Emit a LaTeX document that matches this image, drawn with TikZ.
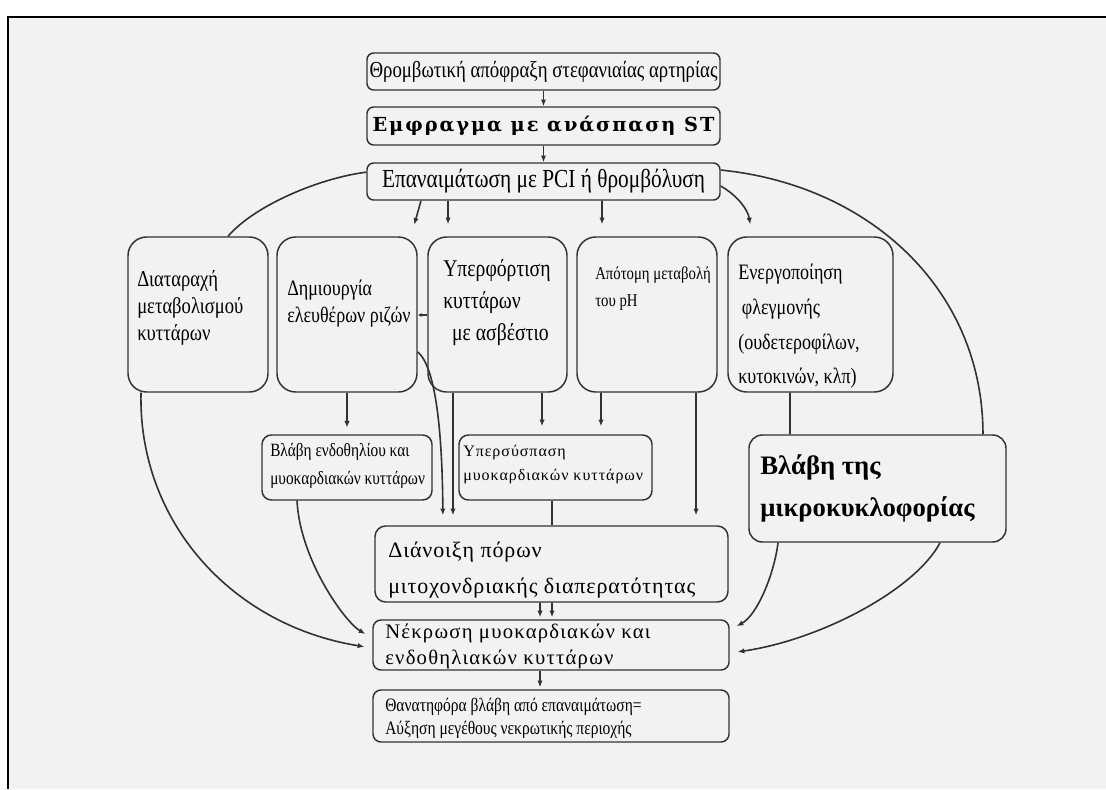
\documentclass[tikz,border=0pt]{standalone}
\usepackage{fontspec}
\setmainfont{Liberation Serif}
\newfontfamily\cond[FakeStretch=0.82]{Liberation Serif}
\newfontfamily\dvsb[LetterSpace=10]{DejaVu Serif}
\newfontfamily\spaced[LetterSpace=6]{Liberation Serif}
\newfontfamily\spacedb[LetterSpace=4]{Liberation Serif}
\usetikzlibrary{arrows.meta,calc}
\definecolor{bg}{RGB}{242,242,242}
\definecolor{ln}{RGB}{50,50,50}
\begin{document}
\begin{tikzpicture}[x=0.75pt,y=-0.75pt,
  box/.style={draw=ln, line width=1.1pt, fill=bg, inner sep=0pt},
  conn/.style={draw=ln, line width=1.2pt},
  arr/.style={conn, -{Latex[length=5pt,width=4pt]}},
  txt/.style={inner sep=0pt, anchor=west, align=left, text=black}]
\useasboundingbox (0,0) rectangle (1106,789);
\fill[white] (0,0) rectangle (1106,789);
\fill[bg] (8,17) rectangle (1106,789);
\draw[black, line width=1.5pt] (8,789) -- (8,17) -- (1106,17);

% boxes
\node[box, rounded corners=5pt, minimum width=264.75pt, minimum height=27.75pt] (b1) at (543.5,71.5) {};
\node[box, rounded corners=5pt, minimum width=264.75pt, minimum height=28.5pt] (b2) at (543.5,126) {};
\node[box, rounded corners=5pt, minimum width=264.75pt, minimum height=27.75pt] (b3) at (543.5,181.5) {};
\node[box, rounded corners=14pt, minimum width=105pt, minimum height=116.25pt] (r1) at (198,314.5) {};
\node[box, rounded corners=14pt, minimum width=105pt, minimum height=116.25pt] (r2) at (347,314.5) {};
\node[box, rounded corners=14pt, minimum width=104.25pt, minimum height=116.25pt] (r3) at (497.5,314.5) {};
\node[box, rounded corners=14pt, minimum width=105pt, minimum height=116.25pt] (r4) at (647,314.5) {};
\node[box, rounded corners=14pt, minimum width=123.75pt, minimum height=116.25pt] (r5) at (810.5,314.5) {};
\node[box, rounded corners=7pt, minimum width=127.5pt, minimum height=48.75pt] (s1) at (347,467.5) {};
\node[box, rounded corners=7pt, minimum width=144.75pt, minimum height=48.75pt] (s2) at (555.5,467.5) {};
\node[box, rounded corners=10pt, minimum width=192.75pt, minimum height=80.25pt] (s3) at (877.5,488.5) {};
\node[box, rounded corners=8pt, minimum width=264.75pt, minimum height=57pt] (d) at (551.5,564) {};
\node[box, rounded corners=6pt, minimum width=267pt, minimum height=37.5pt] (n) at (551,645) {};
\node[box, rounded corners=6pt, minimum width=267pt, minimum height=39pt] (f) at (551,716) {};

% texts
\node[inner sep=0pt, font=\cond\fontsize{17.2}{19}\selectfont] (tb1) at (b1.center) {Θρομβωτική απόφραξη στεφανιαίας αρτηρίας};
\node[inner sep=0pt, font=\dvsb\bfseries\fontsize{14.5}{16}\selectfont] (tb2) at (b2.center) {Εμφραγμα με ανάσπαση ST};
\node[inner sep=0pt, font=\cond\fontsize{19.5}{21}\selectfont] (tb3) at (b3.center) {Επαναιμάτωση με PCI ή θρομβόλυση};
\node[txt, font=\cond\fontsize{17}{20}\selectfont] (tr1) at (137,308) {Διαταραχή\\μεταβολισμού\\κυττάρων};
\node[txt, font=\cond\fontsize{16.5}{20}\selectfont] (tr2) at (287,303.5) {Δημιουργία\\ελευθέρων ριζών};
\node[txt, font=\cond\fontsize{18}{24}\selectfont] (tr3) at (443,302.5) {Υπερφόρτιση\\κυττάρων\\\ \,με ασβέστιο};
\node[txt, font=\cond\fontsize{13.5}{20}\selectfont] (tr4) at (595,288.5) {Απότομη μεταβολή\\του pH};
\node[txt, font=\cond\fontsize{16.5}{26}\selectfont] (tr5) at (738,326.5) {Ενεργοποίηση\\\,φλεγμονής\\(ουδετεροφίλων,\\κυτοκινών, κλπ)};
\node[txt, font=\cond\fontsize{14}{21}\selectfont] (ts1) at (270,466) {Βλάβη ενδοθηλίου και\\μυοκαρδιακών κυττάρων};
\node[txt, font=\spaced\fontsize{12}{18}\selectfont] (ts2) at (463,465) {Υπερσύσπαση\\μυοκαρδιακών κυττάρων};
\node[txt, font=\bfseries\fontsize{20}{32}\selectfont] (ts3) at (760,488.5) {Βλάβη της\\μικροκυκλοφορίας};
\node[txt, font=\spacedb\fontsize{16.5}{27}\selectfont] (td) at (388,570) {Διάνοιξη πόρων\\μιτοχονδριακής διαπερατότητας};
\node[txt, font=\spaced\fontsize{15.5}{20}\selectfont] (tn) at (385,646.5) {Νέκρωση μυοκαρδιακών και\\ενδοθηλιακών κυττάρων};
\node[txt, font=\cond\fontsize{14.2}{17}\selectfont] (tf) at (385,718.5) {Θανατηφόρα βλάβη από επαναιμάτωση=\\Αύξηση μεγέθους νεκρωτικής περιοχής};

% connectors
\draw[arr] (b1.south) -- (b2.north);
\draw[arr] (b2.south) -- (b3.north);
\draw[arr, shorten >=9pt] ([xshift=-91.9pt]b3.south) -- ([xshift=48pt]r2.north);
\draw[arr, shorten >=9pt] ([xshift=-71.6pt]b3.south) -- ([xshift=-37.1pt]r3.north);
\draw[arr, shorten >=9pt] ([xshift=43.9pt]b3.south) -- ([xshift=-33.75pt]r4.north);
\draw[arr, shorten >=9pt] ([yshift=-3.4pt]b3.east) .. controls (738,196) and (748,210) .. ([xshift=-43.9pt]r5.north);
\draw[conn] ([yshift=7pt]b3.west) .. controls (320,178) and (255,205) .. ([xshift=22.5pt]r1.north);
\draw[conn] ([yshift=8.6pt]b3.east) .. controls (870,185) and (983,290) .. ([xshift=79.1pt]s3.north);
\draw[conn] ([xshift=-15.4pt]r5.south) -- ([xshift=-65.6pt]s3.north);
\draw[arr, shorten >=6pt] ([xshift=-42.75pt]r1.south) .. controls (138,520) and (230,625) .. ([yshift=-2.25pt]n.west);
\draw[arr, shorten >=6pt] ([xshift=-37.5pt]s1.south) .. controls (300,560) and (345,622) .. ([yshift=5.25pt]n.west);
\draw[arr, shorten >=5pt] (r2.south) -- (s1.north);
\draw[arr, shorten >=7.5pt] ([yshift=-28.1pt]r2.east) .. controls (430,362) and (442,400) .. ([xshift=-81.4pt]d.north);
\draw[arr, shorten >=7.5pt] ([xshift=-33.4pt]r3.south) -- ([xshift=-73.9pt]d.north);
\draw[arr, shorten >=6pt] ([xshift=33.4pt]r3.south) -- ([xshift=-10.1pt]s2.north);
\draw[arr, shorten >=6pt] ([xshift=-34.5pt]r4.south) -- ([xshift=34.1pt]s2.north);
\draw[arr, shorten >=7.5pt] ([xshift=36.75pt]r4.south) -- ([xshift=108.4pt]d.north);
\draw[conn] ([xshift=-2.6pt]s2.south) -- ([xshift=0.4pt]d.north);
\draw[arr, shorten >=1.5pt] ([xshift=-8.6pt]d.south) -- ([xshift=-8.25pt]n.north);
\draw[arr, shorten >=1.5pt] ([xshift=0.4pt]d.south) -- ([xshift=0.75pt]n.north);
\draw[arr, shorten >=1.5pt] ([xshift=-8.25pt]n.south) -- ([xshift=-8.25pt]f.north);
\draw[arr, shorten >=6pt] ([xshift=-74.6pt]s3.south) .. controls (774,575) and (757,615) .. ([yshift=11.25pt]n.east);
\draw[arr, shorten >=6pt] ([xshift=46.9pt]s3.south) .. controls (915,590) and (820,640) .. ([yshift=-6pt]n.east);
\draw[arr, line width=0.8pt, -{Latex[length=3pt,width=3pt]}] (r3.west |- 0,315) -- (r2.east |- 0,315);
\end{tikzpicture}
\end{document}
